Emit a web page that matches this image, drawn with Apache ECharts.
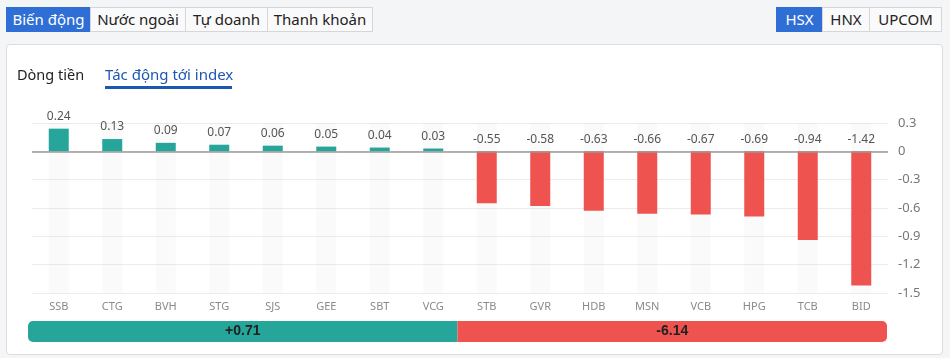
<!DOCTYPE html>
<html>
<head>
<meta charset="utf-8">
<script src="https://cdn.jsdelivr.net/npm/echarts@6/dist/echarts.min.js"></script>
<style>
  html, body { margin:0; padding:0; width:950px; height:358px; background:#f4f5f7; overflow:hidden;
    font-family: "Noto Sans", "Open Sans", Arial, sans-serif; }
  .btns { position:absolute; top:7px; height:25px; display:flex; }
  .btn { height:23px; line-height:23px; border:1px solid #d4d6da; background:#fafafa; color:#222; font-size:15px;
    text-align:center; box-sizing:content-box; margin-left:-1px; }
  .btn.on { background:#2f6fd5; color:#fff; border-color:#2f6fd5; }
  .card { position:absolute; left:6px; top:44px; width:935px; height:309px; background:#fff; border:1px solid #dcdde1; border-radius:4px; }
  .tab { position:absolute; top:64px; font-size:15px; color:#222; }
  .tab.on { color:#1c57b2; }
  .uline { position:absolute; left:105px; top:86px; width:127px; height:3px; background:#1c57b2; }
  #chart { position:absolute; left:0; top:0; width:950px; height:358px; }
</style>
</head>
<body>
<div class="btns" style="left:7px">
  <div class="btn on" style="width:83px">Biến động</div>
  <div class="btn" style="width:94px">Nước ngoài</div>
  <div class="btn" style="width:81px">Tự doanh</div>
  <div class="btn" style="width:104px">Thanh khoản</div>
</div>
<div class="btns" style="left:777px">
  <div class="btn on" style="width:45px">HSX</div>
  <div class="btn" style="width:46px">HNX</div>
  <div class="btn" style="width:71px">UPCOM</div>
</div>
<div class="card"></div>
<div id="chart"></div>
<div class="tab" style="left:17px; font-size:14.5px">Dòng tiền</div>
<div class="tab on" style="left:105px">Tác động tới index</div>
<div class="uline"></div>
<script>
const categories = ["SSB","CTG","BVH","STG","SJS","GEE","SBT","VCG","STB","GVR","HDB","MSN","VCB","HPG","TCB","BID"];
const impactValues = [0.24,0.13,0.09,0.07,0.06,0.05,0.04,0.03,-0.55,-0.58,-0.63,-0.66,-0.67,-0.69,-0.94,-1.42];
const yTicks = { min: -1.5, max: 0.3, interval: 0.3 };
const upColor = "#26a69a", downColor = "#ef5350";

const gainers = impactValues.filter(v => v > 0);
const losers = impactValues.filter(v => v < 0);
const upTotal = gainers.reduce((a, b) => a + b, 0);
const downTotal = losers.reduce((a, b) => a + b, 0);

const chart = echarts.init(document.getElementById('chart'), null, { renderer: 'canvas' });
const font = '"Noto Sans", "Open Sans", Arial, sans-serif';
const boldFont = '"Liberation Sans", Arial, sans-serif';
chart.setOption({
  animation: false,
  textStyle: { fontFamily: font },
  grid: [
    { left: 32, top: 123, width: 856, height: 170 },
    { left: 28, top: 321, width: 859, height: 21 }
  ],
  xAxis: [
    { gridIndex: 0, type: 'category', data: categories,
      axisLine: { show: false }, axisTick: { show: false },
      axisLabel: { color: '#8a8a8a', fontSize: 11, margin: 8 } },
    { gridIndex: 1, type: 'value', min: 0, max: gainers.length + losers.length, show: false }
  ],
  yAxis: [
    { gridIndex: 0, type: 'value', position: 'right', min: yTicks.min, max: yTicks.max, interval: yTicks.interval,
      axisLine: { show: false }, axisTick: { show: false },
      axisLabel: { color: '#777', fontSize: 13, margin: 10, formatter: v => +v.toFixed(1) + '' },
      splitLine: { lineStyle: { color: '#ececec' } } },
    { gridIndex: 1, type: 'category', data: ['total'], show: false }
  ],
  series: [
    { type: 'bar', xAxisIndex: 0, yAxisIndex: 0, barWidth: 20,
      showBackground: true, backgroundStyle: { color: 'rgba(200,200,210,0.09)' },
      data: impactValues.map(v => ({ value: v, itemStyle: { color: v >= 0 ? upColor : downColor } })),
      label: { show: true, position: 'top', distance: 6, color: '#555', fontSize: 12,
        formatter: p => p.value.toFixed(2) },
      markLine: { silent: true, symbol: 'none', label: { show: false },
        lineStyle: { color: '#999', type: 'solid', width: 1.5 }, data: [{ yAxis: 0 }] }
    },
    { type: 'bar', xAxisIndex: 1, yAxisIndex: 1, stack: 'total', barWidth: 21,
      data: [gainers.length], itemStyle: { color: upColor, borderRadius: [5, 0, 0, 5] },
      label: { show: true, position: 'inside', color: '#222', fontSize: 14, fontWeight: 'bold', fontFamily: boldFont,
        formatter: () => '+' + upTotal.toFixed(2) } },
    { type: 'bar', xAxisIndex: 1, yAxisIndex: 1, stack: 'total', barWidth: 21,
      data: [losers.length], itemStyle: { color: downColor, borderRadius: [0, 5, 5, 0] },
      label: { show: true, position: 'inside', color: '#222', fontSize: 14, fontWeight: 'bold', fontFamily: boldFont,
        formatter: () => downTotal.toFixed(2) } }
  ]
});
</script>
</body>
</html>
